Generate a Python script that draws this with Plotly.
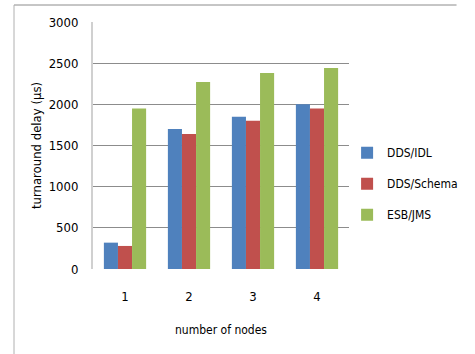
import plotly.graph_objects as go

categories = ["1", "2", "3", "4"]
dds_idl = [320, 1700, 1850, 2000]
dds_schema = [280, 1640, 1800, 1950]
esb_jms = [1950, 2270, 2380, 2440]
series_names = ["DDS/IDL", "DDS/Schema", "ESB/JMS"]
colors = ["#4F81BD", "#C0504D", "#9BBB59"]
y_ticks = [0, 500, 1000, 1500, 2000, 2500, 3000]

FONT = "DejaVu Sans Condensed, Liberation Sans Narrow, Liberation Sans, sans-serif"

fig = go.Figure()
for i, (name, vals) in enumerate(zip(series_names, [dds_idl, dds_schema, esb_jms])):
    fig.add_trace(go.Bar(x=categories, y=vals, name=name,
                         marker=dict(color=colors[i], line=dict(width=0)),
                         legendgroup=name))

fig.update_layout(
    width=475, height=354,
    margin=dict(l=93, r=113, t=22, b=85),
    paper_bgcolor="white", plot_bgcolor="white",
    barmode="group", bargap=0.34, bargroupgap=0,
    font=dict(family=FONT, size=13, color="#000"),
    showlegend=True,
    legend=dict(x=(360 - 93) / 269, y=0.345, xanchor="left", yanchor="middle",
                traceorder="grouped", tracegroupgap=12,
                font=dict(family=FONT, size=12), itemwidth=30,
                bgcolor="rgba(0,0,0,0)"),
    xaxis=dict(showgrid=False, showline=False, zeroline=False, ticks="",
               tickfont=dict(family=FONT, size=13),
               ticklabelstandoff=18,
               title=dict(text="number of nodes", font=dict(family=FONT, size=12), standoff=22)),
    yaxis=dict(range=[0, 3000], tickvals=y_ticks, showgrid=True, gridcolor="#8c8c8c", gridwidth=1,
               zeroline=False, showline=True, linecolor="#d0d0d0", linewidth=2,
               ticks="", ticklabelstandoff=10,
               tickfont=dict(family=FONT, size=13),
               title=dict(text="turnaround delay (µs)", font=dict(family=FONT, size=13), standoff=4)),
    shapes=[
        dict(type="line", xref="paper", yref="paper", x0=-83/269, x1=382/269, y0=(269-5)/247, y1=(269-5)/247,
             line=dict(color="#8c8c8c", width=1)),
        dict(type="line", xref="paper", yref="paper", x0=-83/269, x1=-83/269, y0=(269-5)/247, y1=(269-354)/247,
             line=dict(color="#b0b0b0", width=1)),
    ],
)

fig.write_html("out.html")
